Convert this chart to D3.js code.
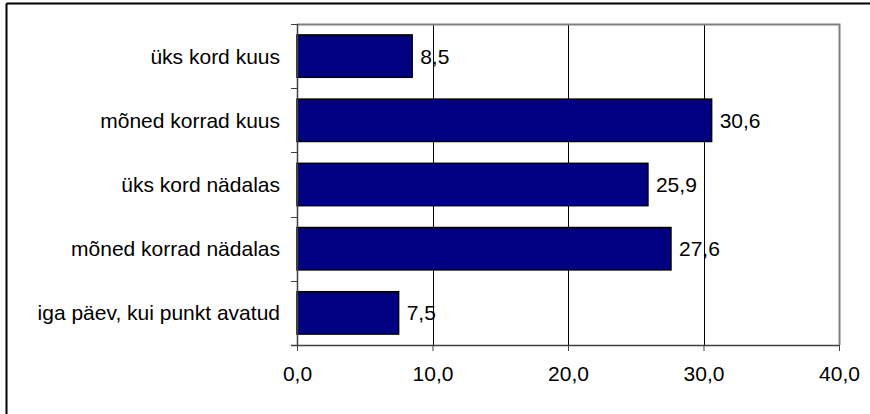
<!DOCTYPE html>
<html><head><meta charset="utf-8">
<script src="https://cdn.jsdelivr.net/npm/d3@7"></script>
<style>body{margin:0;background:#fff}svg{display:block}</style>
</head><body>
<script>
const categories = ["üks kord kuus","mõned korrad kuus","üks kord nädalas","mõned korrad nädalas","iga päev, kui punkt avatud"];
const values = [8.5, 30.6, 25.9, 27.6, 7.5];
const xTicks = [0, 10, 20, 30, 40];

(function(){
const W = 870, H = 414;
const pL = 297, pR = 839, pT = 24, pB = 345;
const svg = d3.select("body").append("svg").attr("width", W).attr("height", H);
const font = "'Liberation Sans', Arial, sans-serif";
const fs = 21;
const fmt = v => d3.format(".1f")(v).replace(".", ",");

// outer frame (top and left)
svg.append("line").attr("x1",6.5).attr("x2",W).attr("y1",3.5).attr("y2",3.5).attr("stroke","#000").attr("stroke-width",2);
svg.append("line").attr("x1",6.5).attr("x2",6.5).attr("y1",3.5).attr("y2",H).attr("stroke","#000").attr("stroke-width",2);

const x = d3.scaleLinear().domain([0,40]).range([pL,pR]);
const y = d3.scaleBand().domain(categories).range([pT,pB]).paddingInner(0.34).paddingOuter(0.17);

// gridlines
svg.append("g").selectAll("line").data(xTicks.slice(1,-1)).join("line")
  .attr("x1",d=>Math.round(x(d))+0.5).attr("x2",d=>Math.round(x(d))+0.5)
  .attr("y1",pT).attr("y2",pB).attr("stroke","#000").attr("stroke-width",1);

// plot border (top/right) gray
svg.append("path").attr("d",`M${pL},${pT+0.5}H${pR+0.5}V${pB}`).attr("fill","none").attr("stroke","#808080").attr("stroke-width",2);

// bars
svg.append("g").selectAll("rect").data(values).join("rect")
  .attr("x",x(0)).attr("y",(d,i)=>y(categories[i]))
  .attr("width",d=>x(d)-x(0)).attr("height",y.bandwidth())
  .attr("fill","#000080").attr("stroke","#000").attr("stroke-width",1.5);

// value labels
svg.append("g").selectAll("text").data(values).join("text")
  .attr("x",d=>x(d)+8).attr("y",(d,i)=>y(categories[i])+y.bandwidth()/2)
  .attr("dy","0.36em").attr("font-family",font).attr("font-size",fs).attr("fill","#000")
  .text(d=>fmt(d));

// x axis
const xAxis = d3.axisBottom(x).tickValues(xTicks).tickFormat(fmt).tickSize(6).tickPadding(15);
const gx = svg.append("g").attr("transform",`translate(0,${pB})`).call(xAxis);
gx.select(".domain").attr("stroke","#404040").attr("stroke-width",1.5).attr("d",`M${pL-6},0.5H${pR}`);
gx.selectAll(".tick line").attr("stroke","#404040");
gx.selectAll("text").attr("font-family",font).attr("font-size",fs).attr("fill","#000");

// y axis with ticks at band boundaries
const bounds = d3.range(categories.length+1).map(i => pT + i*(pB-pT)/categories.length);
svg.append("line").attr("x1",pL+0.5).attr("x2",pL+0.5).attr("y1",pT).attr("y2",pB).attr("stroke","#404040").attr("stroke-width",1.5);
svg.append("g").selectAll("line").data(bounds).join("line")
  .attr("x1",pL-6).attr("x2",pL).attr("y1",d=>Math.round(d)+0.5).attr("y2",d=>Math.round(d)+0.5)
  .attr("stroke","#404040");
svg.append("g").selectAll("text").data(categories).join("text")
  .attr("x",pL-17).attr("y",d=>y(d)+y.bandwidth()/2).attr("dy","0.36em")
  .attr("text-anchor","end").attr("font-family",font).attr("font-size",fs).attr("fill","#000")
  .text(d=>d);
})();
</script>
</body></html>
